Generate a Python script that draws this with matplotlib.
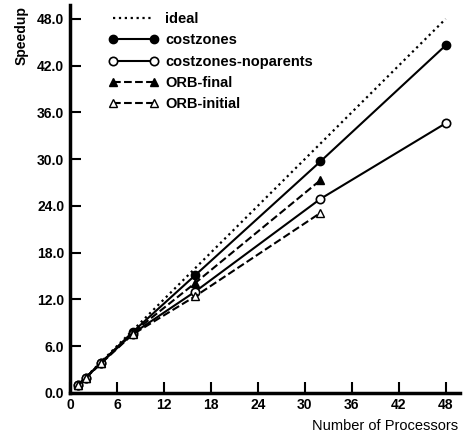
import matplotlib
matplotlib.use("Agg")
import matplotlib.pyplot as plt

plt.rcParams['font.family'] = ['Liberation Sans', 'DejaVu Sans']

procs = [1, 2, 4, 8, 16, 32, 48]
procs32 = [1, 2, 4, 8, 16, 32]
ideal_x = [0, 48]
ideal_y = [0, 48]
costzones = [1.0, 1.95, 3.9, 7.8, 15.1, 29.7, 44.6]
noparents = [1.0, 1.95, 3.85, 7.6, 13.0, 24.9, 34.6]
orb_final = [1.0, 1.95, 3.9, 7.7, 14.1, 27.3]
orb_initial = [1.0, 1.9, 3.8, 7.5, 12.4, 23.1]
xticks = [0, 6, 12, 18, 24, 30, 36, 42, 48]
yticks = [0, 6, 12, 18, 24, 30, 36, 42, 48]

fig = plt.figure(figsize=(4.63, 4.40), dpi=100)
ax = fig.add_axes([0.151, 0.107, 0.842, 0.882])

ax.plot(ideal_x, ideal_y, ':', color='black', lw=1.6, label='ideal')
ax.plot(procs, costzones, '-', color='black', lw=1.5, marker='o', ms=6,
        mfc='black', mec='black', label='costzones')
ax.plot(procs, noparents, '-', color='black', lw=1.5, marker='o', ms=6,
        mfc='white', mec='black', mew=1.2, label='costzones-noparents')
ax.plot(procs32, orb_final, '--', color='black', lw=1.5, marker='^', ms=6,
        mfc='black', mec='black', label='ORB-final')
ax.plot(procs32, orb_initial, '--', color='black', lw=1.5, marker='^', ms=6,
        mfc='white', mec='black', mew=1.0, label='ORB-initial')

ax.set_xlim(0, 49.8)
ax.set_ylim(0, 49.8)
ax.set_xticks(xticks)
ax.set_xticklabels([str(v) for v in xticks], fontsize=10, fontweight='bold')
ax.set_yticks(yticks)
ax.set_yticklabels(['%.1f' % v for v in yticks], fontsize=10, fontweight='bold')
ax.tick_params(direction='in', length=8, width=1.5, pad=4)
for s in ['top', 'right']:
    ax.spines[s].set_visible(False)
for s in ['left', 'bottom']:
    ax.spines[s].set_linewidth(2.5)

fig.text(0.99, 0.015, 'Number of Processors', ha='right', va='bottom', fontsize=10.5)
fig.text(0.032, 0.985, 'Speedup', ha='left', va='top', rotation=90, fontsize=10,
         fontweight='bold')

leg = ax.legend(loc='upper left', bbox_to_anchor=(0.065, 1.015), frameon=False,
                numpoints=2, handlelength=3.4, handletextpad=0.5,
                labelspacing=0.5, prop={'size': 10.5, 'weight': 'bold'})

fig.savefig('out.png', dpi=100)
